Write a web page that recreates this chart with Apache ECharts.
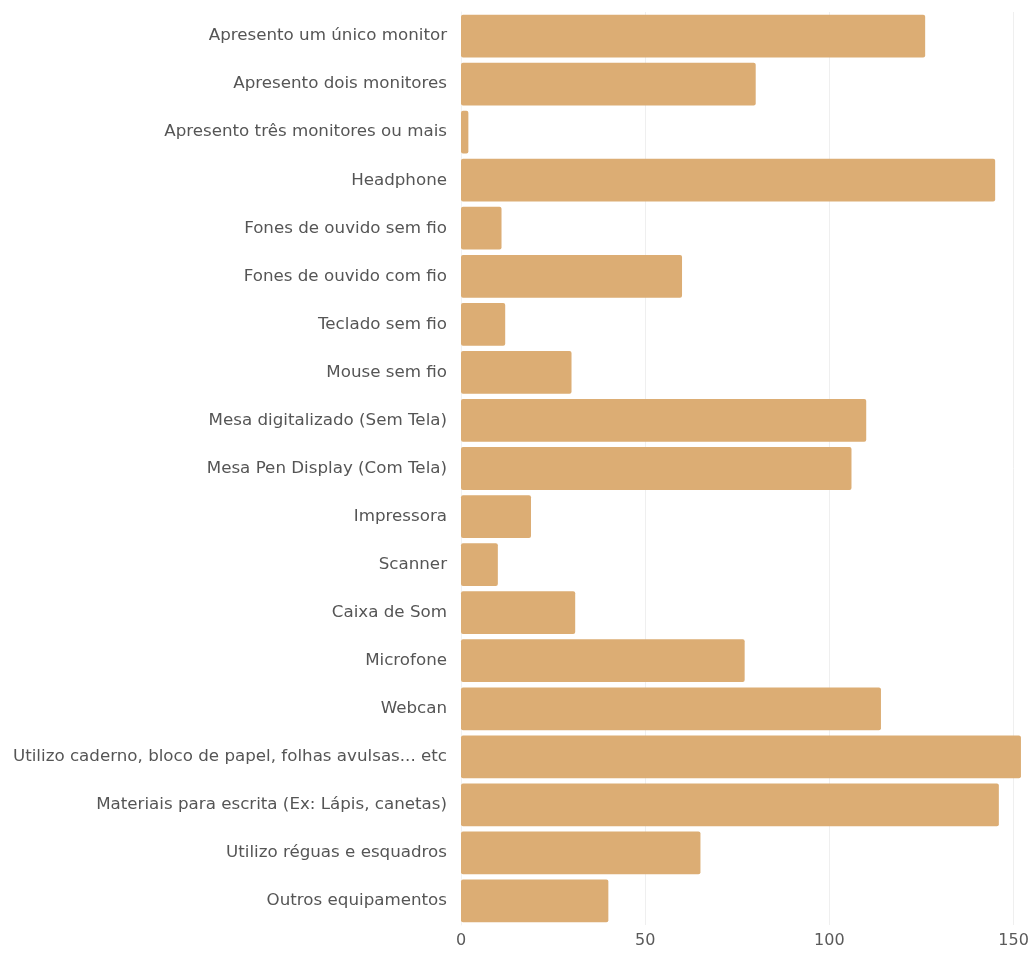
<!DOCTYPE html>
<html>
<head>
<meta charset="utf-8">
<script src="https://cdn.jsdelivr.net/npm/echarts@6/dist/echarts.min.js"></script>
<style>
  html, body { margin: 0; padding: 0; background: #ffffff; }
  #chart { width: 1034px; height: 954px; }
</style>
</head>
<body>
<div id="chart"></div>
<script>
// Equipment categories, listed top to bottom
const categories = [
  'Apresento um único monitor',
  'Apresento dois monitores',
  'Apresento três monitores ou mais',
  'Headphone',
  'Fones de ouvido sem fio',
  'Fones de ouvido com fio',
  'Teclado sem fio',
  'Mouse sem fio',
  'Mesa digitalizado (Sem Tela)',
  'Mesa Pen Display (Com Tela)',
  'Impressora',
  'Scanner',
  'Caixa de Som',
  'Microfone',
  'Webcan',
  'Utilizo caderno, bloco de papel, folhas avulsas... etc',
  'Materiais para escrita (Ex: Lápis, canetas)',
  'Utilizo réguas e esquadros',
  'Outros equipamentos'
];

// Number of responses per category
const counts = [126, 80, 2, 145, 11, 60, 12, 30, 110, 106, 19, 10, 31, 77, 114, 152, 146, 65, 40];

// Value axis range and tick step
const axisMin = 0;
const axisMax = 155;
const axisStep = 50;

const chart = echarts.init(document.getElementById('chart'), null, { renderer: 'canvas' });

chart.setOption({
  animation: false,
  backgroundColor: '#ffffff',
  grid: { left: 461, right: 2, top: 12, bottom: 29, containLabel: false },
  xAxis: {
    type: 'value',
    min: axisMin,
    max: axisMax,
    interval: axisStep,
    axisLine: { show: false },
    axisTick: { show: false },
    axisLabel: {
      color: '#5a5a5a',
      fontFamily: 'DejaVu Sans',
      fontSize: 16,
      margin: 8,
      showMaxLabel: false
    },
    splitLine: { show: true, showMaxLine: false, lineStyle: { color: '#efefef', width: 1 } }
  },
  yAxis: {
    type: 'category',
    data: categories,
    inverse: true,
    axisLine: { show: true, lineStyle: { color: '#f2f2f2' } },
    axisTick: { show: false },
    axisLabel: {
      color: '#555555',
      fontFamily: 'DejaVu Sans',
      fontSize: 16.7,
      margin: 14
    },
    splitLine: { show: false }
  },
  series: [{
    type: 'bar',
    data: counts,
    barCategoryGap: '11%',
    itemStyle: { color: '#DCAD74', borderRadius: 2 },
    silent: true
  }]
});
</script>
</body>
</html>
